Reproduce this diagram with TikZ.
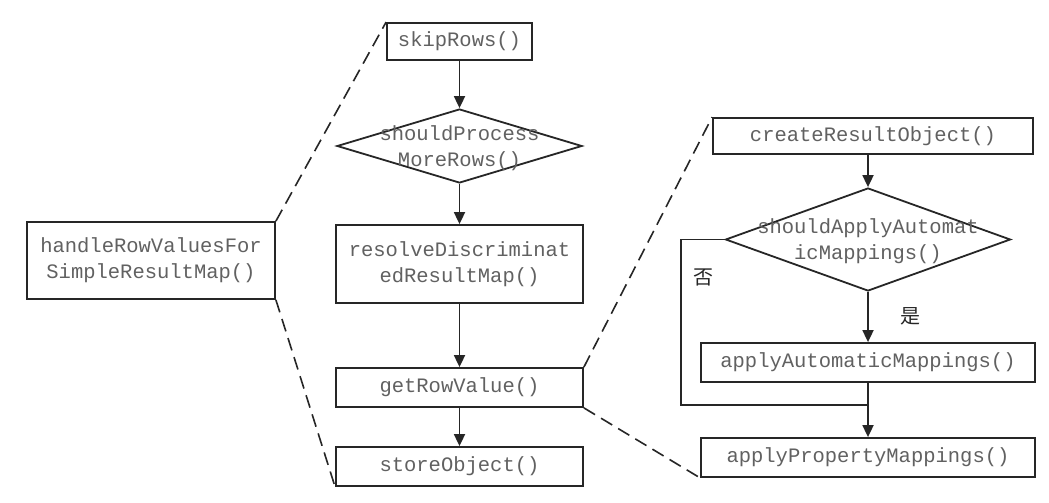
\documentclass[tikz,border=0pt]{standalone}
\usepackage{fontspec}
\setmonofont{Liberation Mono}
\newfontfamily\cjk{Noto Sans CJK SC}
\usetikzlibrary{shapes.geometric,arrows.meta}
\begin{document}
\begin{tikzpicture}[x=1pt,y=-1pt,
  every node/.style={inner sep=0pt},
  proc/.style={draw=black!85,line width=1.8pt,rectangle,align=center,
    font=\ttfamily\fontsize{20.5}{26}\selectfont,text=black!62},
  decide/.style={draw=black!85,line width=1.8pt,diamond},
  dtext/.style={align=center,font=\ttfamily\fontsize{20.5}{26}\selectfont,text=black!62},
  flow/.style={draw=black!85,line width=1.8pt,-{Triangle[length=12pt,width=11pt]}},
  plain/.style={draw=black!85,line width=1.8pt},
  zoomline/.style={draw=black!85,line width=1.6pt,dash pattern=on 13pt off 7pt},
  tag/.style={font=\cjk\fontsize{20}{24}\selectfont,text=black!85}]
\useasboundingbox (0,0) rectangle (1049,503);
\fill[white] (0,0) rectangle (1049,503);

% middle column
\node[proc,minimum width=248pt,minimum height=77pt] (handle) at (151,260.5)
  {handleRowValuesFor\\SimpleResultMap()};
\node[proc,minimum width=145pt,minimum height=37pt] (skip) at (459.5,41.5) {skipRows()};
\node[decide,minimum width=245pt,minimum height=74pt] (d1) at (459.5,146) {};
\node[dtext] (d1t) at (459.5,148.5) {shouldProcess\\MoreRows()};
\node[proc,minimum width=247pt,minimum height=78pt] (resolve) at (459.5,264)
  {resolveDiscriminat\\edResultMap()};
\node[proc,minimum width=247pt,minimum height=39pt] (getrow) at (459.5,387.5) {getRowValue()};
\node[proc,minimum width=247pt,minimum height=39pt] (store) at (459.5,466.5) {storeObject()};

\draw[flow] (skip) -- (d1);
\draw[flow] (d1) -- (resolve);
\draw[flow] (resolve) -- (getrow);
\draw[flow] (getrow) -- (store);

% right column
\node[proc,minimum width=320pt,minimum height=36pt] (create) at (873,136) {createResultObject()};
\node[decide,minimum width=285pt,minimum height=103pt] (d2) at (868,239.5) {};
\node[dtext] (d2t) at (868,241) {shouldApplyAutomat\\icMappings()};
\node[proc,minimum width=334pt,minimum height=39pt] (auto) at (868,362.5) {applyAutomaticMappings()};
\node[proc,minimum width=334pt,minimum height=39pt] (prop) at (868,457.5) {applyPropertyMappings()};
\coordinate (join) at (868,405);
\coordinate (corner) at (681,405);

\draw[flow] (d2.north |- create.south) -- (d2.north);
\draw[flow] (d2.south) -- (auto.north);
\draw[flow] (auto.south) -- (prop.north);
\draw[plain] (d2.west) -| (corner) -- (join);

\node[tag] (no) at (703,277) {否};
\node[tag] (yes) at (910,316) {是};

% expansion guides
\draw[zoomline] (handle.north east) -- (skip.north west);
\draw[zoomline] (handle.south east) -- (store.south west);
\draw[zoomline] (getrow.north east) -- (create.north west);
\draw[zoomline] (getrow.south east) -- (prop.south west);
\end{tikzpicture}
\end{document}
